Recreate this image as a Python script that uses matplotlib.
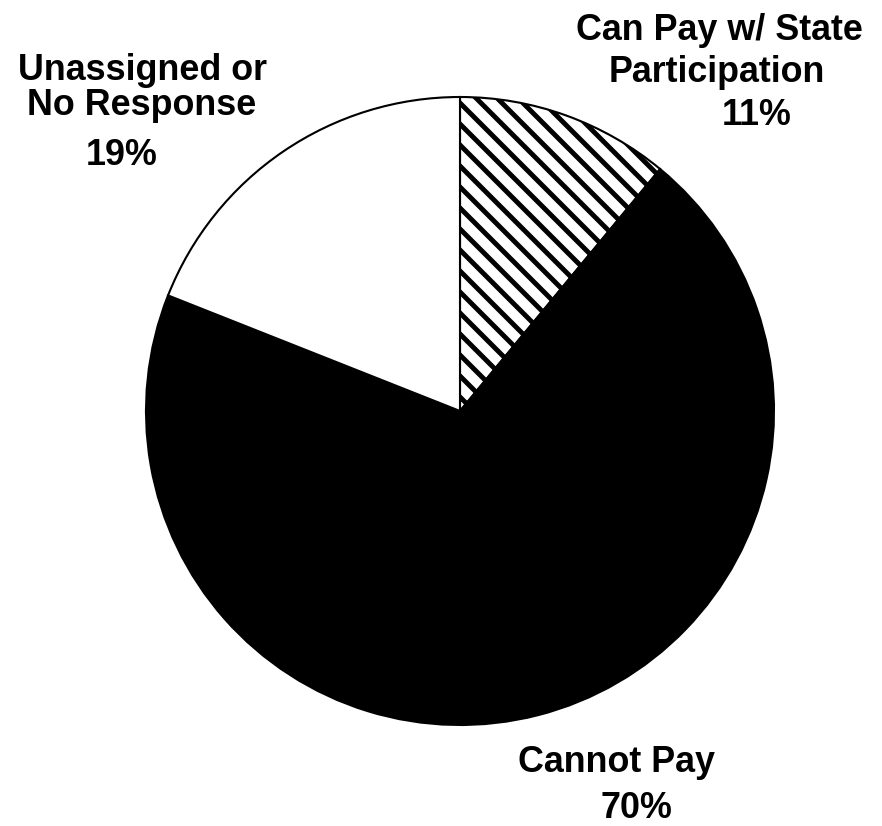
import matplotlib
matplotlib.use('Agg')
import matplotlib.pyplot as plt

# slice data, clockwise from 12 o'clock
categories = ['Can Pay w/ State\nParticipation', 'Cannot Pay', 'Unassigned or\nNo Response']
shares = [11, 70, 19]
pct_labels = ['11%', '70%', '19%']

plt.rcParams['font.family'] = ['Liberation Sans', 'DejaVu Sans']
plt.rcParams['hatch.linewidth'] = 2.8
plt.rcParams['hatch.color'] = 'black'

fig = plt.figure(figsize=(882 / 126, 826 / 126), dpi=126)
ax = fig.add_axes([0, 0, 1, 1])

wedges, _ = ax.pie(shares, startangle=90, counterclock=False,
                   center=(460, 415), radius=314,
                   colors=['white', 'black', 'white'],
                   wedgeprops=dict(edgecolor='black', linewidth=1.2))
wedges[0].set_hatch('\\\\')
ax.set_xlim(0, 882)
ax.set_ylim(0, 826)
ax.set_aspect('equal')
ax.axis('off')

# labels (name lines then percent), baselines in pixel coords
tkw = dict(ha='center', va='baseline', fontsize=20.5, fontweight='bold', color='black')
ax.text(719, 826 - 40, 'Can Pay w/ State', **tkw)
ax.text(717, 826 - 82, 'Participation', **tkw)
ax.text(757, 826 - 125, pct_labels[0], **tkw)

ax.text(142, 826 - 80, 'Unassigned or', **tkw)
ax.text(142, 826 - 115, 'No Response', **tkw)
ax.text(122, 826 - 165, pct_labels[2], **tkw)

ax.text(617, 826 - 772, 'Cannot Pay', **tkw)
ax.text(636, 826 - 818, pct_labels[1], **tkw)

fig.savefig('out.png', dpi=126, facecolor='white')
